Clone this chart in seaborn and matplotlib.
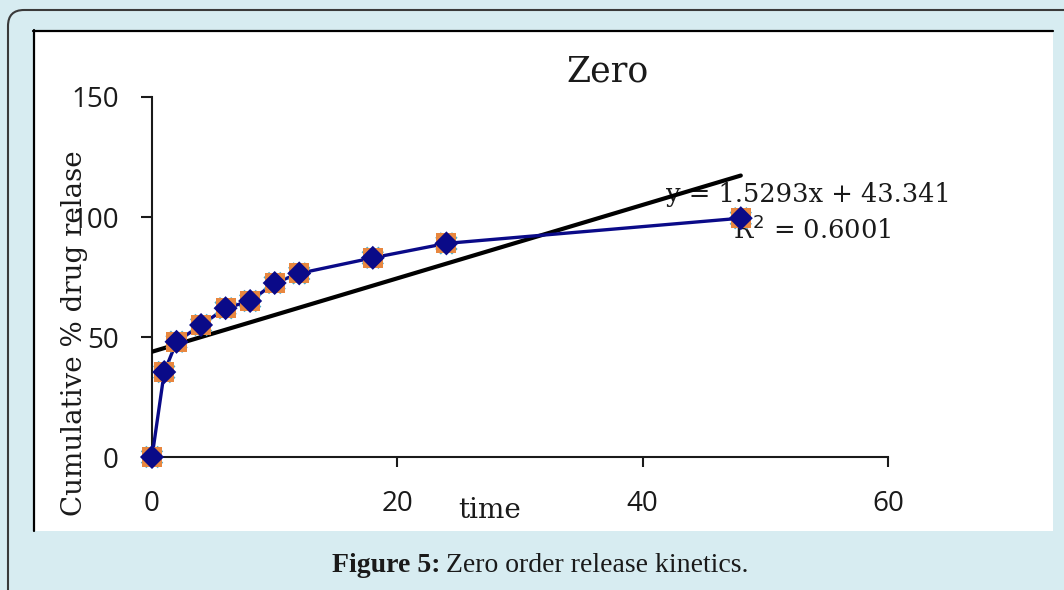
import numpy as np
import matplotlib
matplotlib.use("Agg")
import matplotlib.pyplot as plt
from matplotlib.patches import FancyBboxPatch, Rectangle
from matplotlib.lines import Line2D
from matplotlib.transforms import IdentityTransform
import seaborn as sns

# Data
time_h = [0, 1, 2, 4, 6, 8, 10, 12, 18, 24, 48]
release = [0, 35.4, 48, 55, 62, 65, 72.5, 76.5, 83, 89, 99.5]
x_ticks = [0, 20, 40, 60]
y_ticks = [0, 50, 100, 150]
eq_text = "y = 1.5293x + 43.341"
r2_text = "R$^2$ = 0.6001"

sns.set_theme(style="white")
plt.rcParams["font.family"] = ["DejaVu Serif"]

W, H = 1064, 590
fig = plt.figure(figsize=(W / 100, H / 100), dpi=100)
fig.patch.set_facecolor("#d7ecf1")

# outer rounded frame and white panel (pixel coords)
frame = FancyBboxPatch((8, -30), 1120, H - 10 + 30, boxstyle="round,pad=0,rounding_size=16",
                       transform=IdentityTransform(), facecolor="#d7ecf1",
                       edgecolor="#3a3a3a", linewidth=1.5, zorder=-3)
fig.patches.append(frame)
panel = Rectangle((33, H - 531), 1053 - 33, 531 - 30, transform=IdentityTransform(),
                  facecolor="white", edgecolor="none", zorder=-2)
fig.patches.append(panel)
fig.lines.append(Line2D([34, 34], [H - 531, H - 30], transform=IdentityTransform(),
                        color="black", lw=1.6, zorder=-1))
fig.lines.append(Line2D([33, 1053], [H - 31, H - 31], transform=IdentityTransform(),
                        color="black", lw=1.6, zorder=-1))

ax = fig.add_axes([152 / W, 1 - 457 / H, (888 - 152) / W, (457 - 97) / H])
ax.set_facecolor("none")

# linear trend
sns.regplot(x=time_h, y=release, scatter=False, ci=None, ax=ax,
            line_kws=dict(color="black", lw=3, zorder=3))
# data line and markers
sns.lineplot(x=time_h, y=release, ax=ax, color="#0a0a88", lw=2.4, zorder=4, clip_on=False)
sns.scatterplot(x=time_h, y=release, ax=ax, marker="X", s=260, color="#4bacc6",
                edgecolor="none", zorder=5, clip_on=False)
sns.scatterplot(x=time_h, y=release, ax=ax, marker="s", s=210, color="#e8873f",
                edgecolor="none", zorder=6, clip_on=False)
sns.scatterplot(x=time_h, y=release, ax=ax, marker="D", s=150, color="#0a0a88",
                edgecolor="none", zorder=7, clip_on=False)

ax.set_xlim(0, 60)
ax.set_ylim(0, 150)
ax.set_xticks(x_ticks)
ax.set_yticks(y_ticks)
ax.set_xlabel("")
ax.set_ylabel("")
for s in ["top", "right"]:
    ax.spines[s].set_visible(False)
for s in ["left", "bottom"]:
    ax.spines[s].set_color("#1a1a1a")
    ax.spines[s].set_linewidth(1.5)
ax.tick_params(axis="x", bottom=True, direction="out", length=7, width=1.5, pad=17,
               labelsize=20, colors="#1a1a1a")
ax.tick_params(axis="y", left=True, direction="out", length=8, width=1.5, pad=16,
               labelsize=20, colors="#1a1a1a")
for lab in ax.get_xticklabels() + ax.get_yticklabels():
    lab.set_fontfamily(["Open Sans", "DejaVu Sans"])

ax.text(41.9, 109.2, eq_text, fontsize=18.5, va="center", ha="left", zorder=1, color="#1a1a1a")
ax.text(47.4, 94.6, r2_text, fontsize=18.5, va="center", ha="left", zorder=1, color="#1a1a1a")

fig.text(608 / W, 1 - 72 / H, "Zero", fontsize=25, ha="center", va="center", color="#1a1a1a")
fig.text(490 / W, 1 - 510 / H, "time", fontsize=20, ha="center", va="center", color="#1a1a1a")
fig.text(75 / W, 1 - 333 / H, "Cumulative % drug relase", fontsize=20, rotation=90,
         ha="center", va="center", color="#1a1a1a")

fig.text(441 / W, 1 - 566 / H, "Figure 5:", fontsize=20, fontweight="bold",
         family=["Liberation Serif"], ha="right", va="center", color="#1a1a1a")
fig.text(446 / W, 1 - 566 / H, "Zero order release kinetics.", fontsize=20,
         family=["Liberation Serif"], ha="left", va="center", color="#1a1a1a")

fig.savefig("out.png", dpi=100)
